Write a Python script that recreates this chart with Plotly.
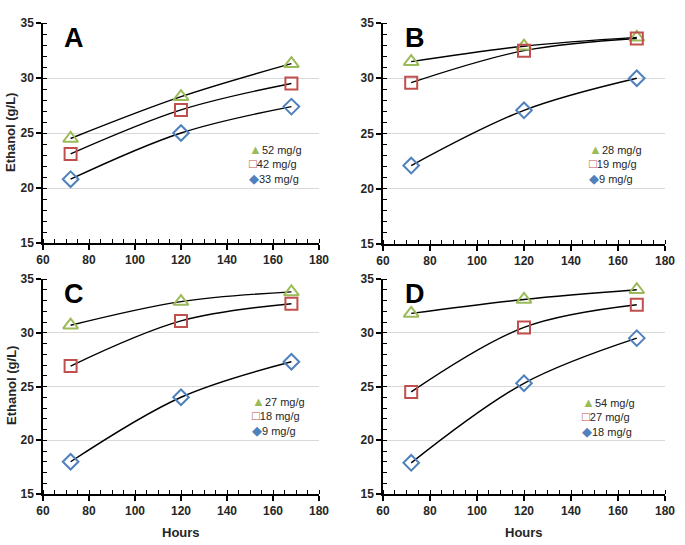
import plotly.graph_objects as go

hours = [72, 120, 168]

panels = ["A", "B", "C", "D"]
labels = {
    "A": ["52 mg/g", "42 mg/g", "33 mg/g"],
    "B": ["28 mg/g", "19 mg/g", "9 mg/g"],
    "C": ["27 mg/g", "18 mg/g", "9 mg/g"],
    "D": ["54 mg/g", "27 mg/g", "18 mg/g"],
}
tri_vals = {"A": [24.5, 28.3, 31.3], "B": [31.5, 32.9, 33.7], "C": [30.7, 32.9, 33.8], "D": [31.8, 33.1, 34.0]}
sq_vals = {"A": [23.1, 27.1, 29.5], "B": [29.6, 32.5, 33.6], "C": [26.9, 31.1, 32.7], "D": [24.5, 30.5, 32.6]}
dia_vals = {"A": [20.8, 25.0, 27.4], "B": [22.1, 27.1, 30.0], "C": [18.0, 24.0, 27.3], "D": [17.9, 25.3, 29.5]}

x_ticks = [60, 80, 100, 120, 140, 160, 180]
y_ticks = [15, 20, 25, 30, 35]

W, H = 685, 545
ML, MR, MT, MB = 43, 20, 23, 51
PW, PH = W - ML - MR, H - MT - MB
# pixel boxes of each plot area: (left, right, top, bottom)
boxes = {"A": (43, 319, 23, 243), "B": (383, 665, 23, 244),
         "C": (43, 319, 279, 494), "D": (383, 665, 279, 494)}
legend_pos = {"A": (247, 140), "B": (587, 140), "C": (250, 392), "D": (580, 393)}

styles = [
    dict(symbol="triangle-up-open", color="#9BBB59", size=13, glyph="▲"),
    dict(symbol="square-open", color="#C0504D", size=12, glyph="<b>□</b>"),
    dict(symbol="diamond-open", color="#4F81BD", size=12, glyph="◆"),
]

fig = go.Figure()
layout = {}
tick_font = dict(family="Liberation Sans, Arial", size=12, color="#262626", weight="bold")
for i, p in enumerate(panels):
    n = "" if i == 0 else str(i + 1)
    xa, ya = "x" + n, "y" + n
    series = [tri_vals[p], sq_vals[p], dia_vals[p]]
    for s, vals in enumerate(series):
        fig.add_trace(go.Scatter(x=hours, y=vals, mode="lines", line=dict(color="black", width=1.4, shape="spline", smoothing=1.0),
                                 xaxis=xa, yaxis=ya, showlegend=False, hoverinfo="skip"))
    for s, vals in enumerate(series):
        st = styles[s]
        fig.add_trace(go.Scatter(x=hours, y=vals, mode="markers", name=labels[p][s],
                                 marker=dict(symbol=st["symbol"], size=st["size"], color=st["color"],
                                             line=dict(width=2, color=st["color"])),
                                 xaxis=xa, yaxis=ya, showlegend=False))
    l, r, t, b = boxes[p]
    layout["xaxis" + n] = dict(domain=[(l - ML) / PW, (r - ML) / PW], range=[60, 180], tickvals=x_ticks, showgrid=False,
                               minor=dict(dtick=5, ticks="inside", ticklen=4, tickcolor="black", tickwidth=1.2, showgrid=False),
                               showline=True, linecolor="black", linewidth=1.5, ticks="outside", ticklen=5, tickcolor="black",
                               tickwidth=1.5, tickfont=tick_font, zeroline=False, anchor=ya, automargin=False)
    layout["yaxis" + n] = dict(domain=[(H - MB - b) / PH, (H - MB - t) / PH], range=[15, 35], tickvals=y_ticks, showgrid=True,
                               gridcolor="#D9D9D9", gridwidth=1,
                               minor=dict(dtick=1, ticks="inside", ticklen=4, tickcolor="black", tickwidth=1.2, showgrid=False),
                               showline=True, linecolor="black", linewidth=1.5, ticks="outside", ticklen=5, tickcolor="black",
                               tickwidth=1.5, tickfont=tick_font, zeroline=False, anchor=xa, automargin=False)
    lx, ly = legend_pos[p]
    leg_text = "<br>".join(
        '<span style="color:%s;font-size:13px">%s</span>%s' % (styles[s]["color"], styles[s]["glyph"], labels[p][s])
        for s in range(3))
    fig.add_annotation(text=leg_text, xref="paper", yref="paper", x=(lx - ML) / PW, y=(H - MB - ly) / PH,
                       xanchor="left", yanchor="top", align="left", showarrow=False,
                       font=dict(family="Liberation Sans, Arial", size=11, color="#262626"))
    fig.add_annotation(text="<b>%s</b>" % p, xref=xa + " domain", yref=ya + " domain", x=0.07, y=1.01, xanchor="left",
                       yanchor="top", showarrow=False, font=dict(family="Liberation Sans, Arial", size=27, color="black"))

title_font = dict(family="Liberation Sans, Arial", size=13, color="#262626", weight="bold")
for yc in (133, 386):
    fig.add_annotation(text="Ethanol (g/L)", xref="paper", yref="paper", x=(11 - ML) / PW, y=(H - MB - yc) / PH,
                       xanchor="center", yanchor="middle", textangle=-90, showarrow=False, font=title_font)
for xc in (181, 524):
    fig.add_annotation(text="Hours", xref="paper", yref="paper", x=(xc - ML) / PW, y=(H - MB - 532) / PH,
                       xanchor="center", yanchor="middle", showarrow=False, font=title_font)

fig.update_layout(width=W, height=H, margin=dict(l=ML, r=MR, t=MT, b=MB), plot_bgcolor="white", paper_bgcolor="white",
                  showlegend=False, **layout)
fig.write_html("out.html", config={"displayModeBar": False},
               post_script="document.body.style.margin='0';document.body.style.overflow='hidden';")
